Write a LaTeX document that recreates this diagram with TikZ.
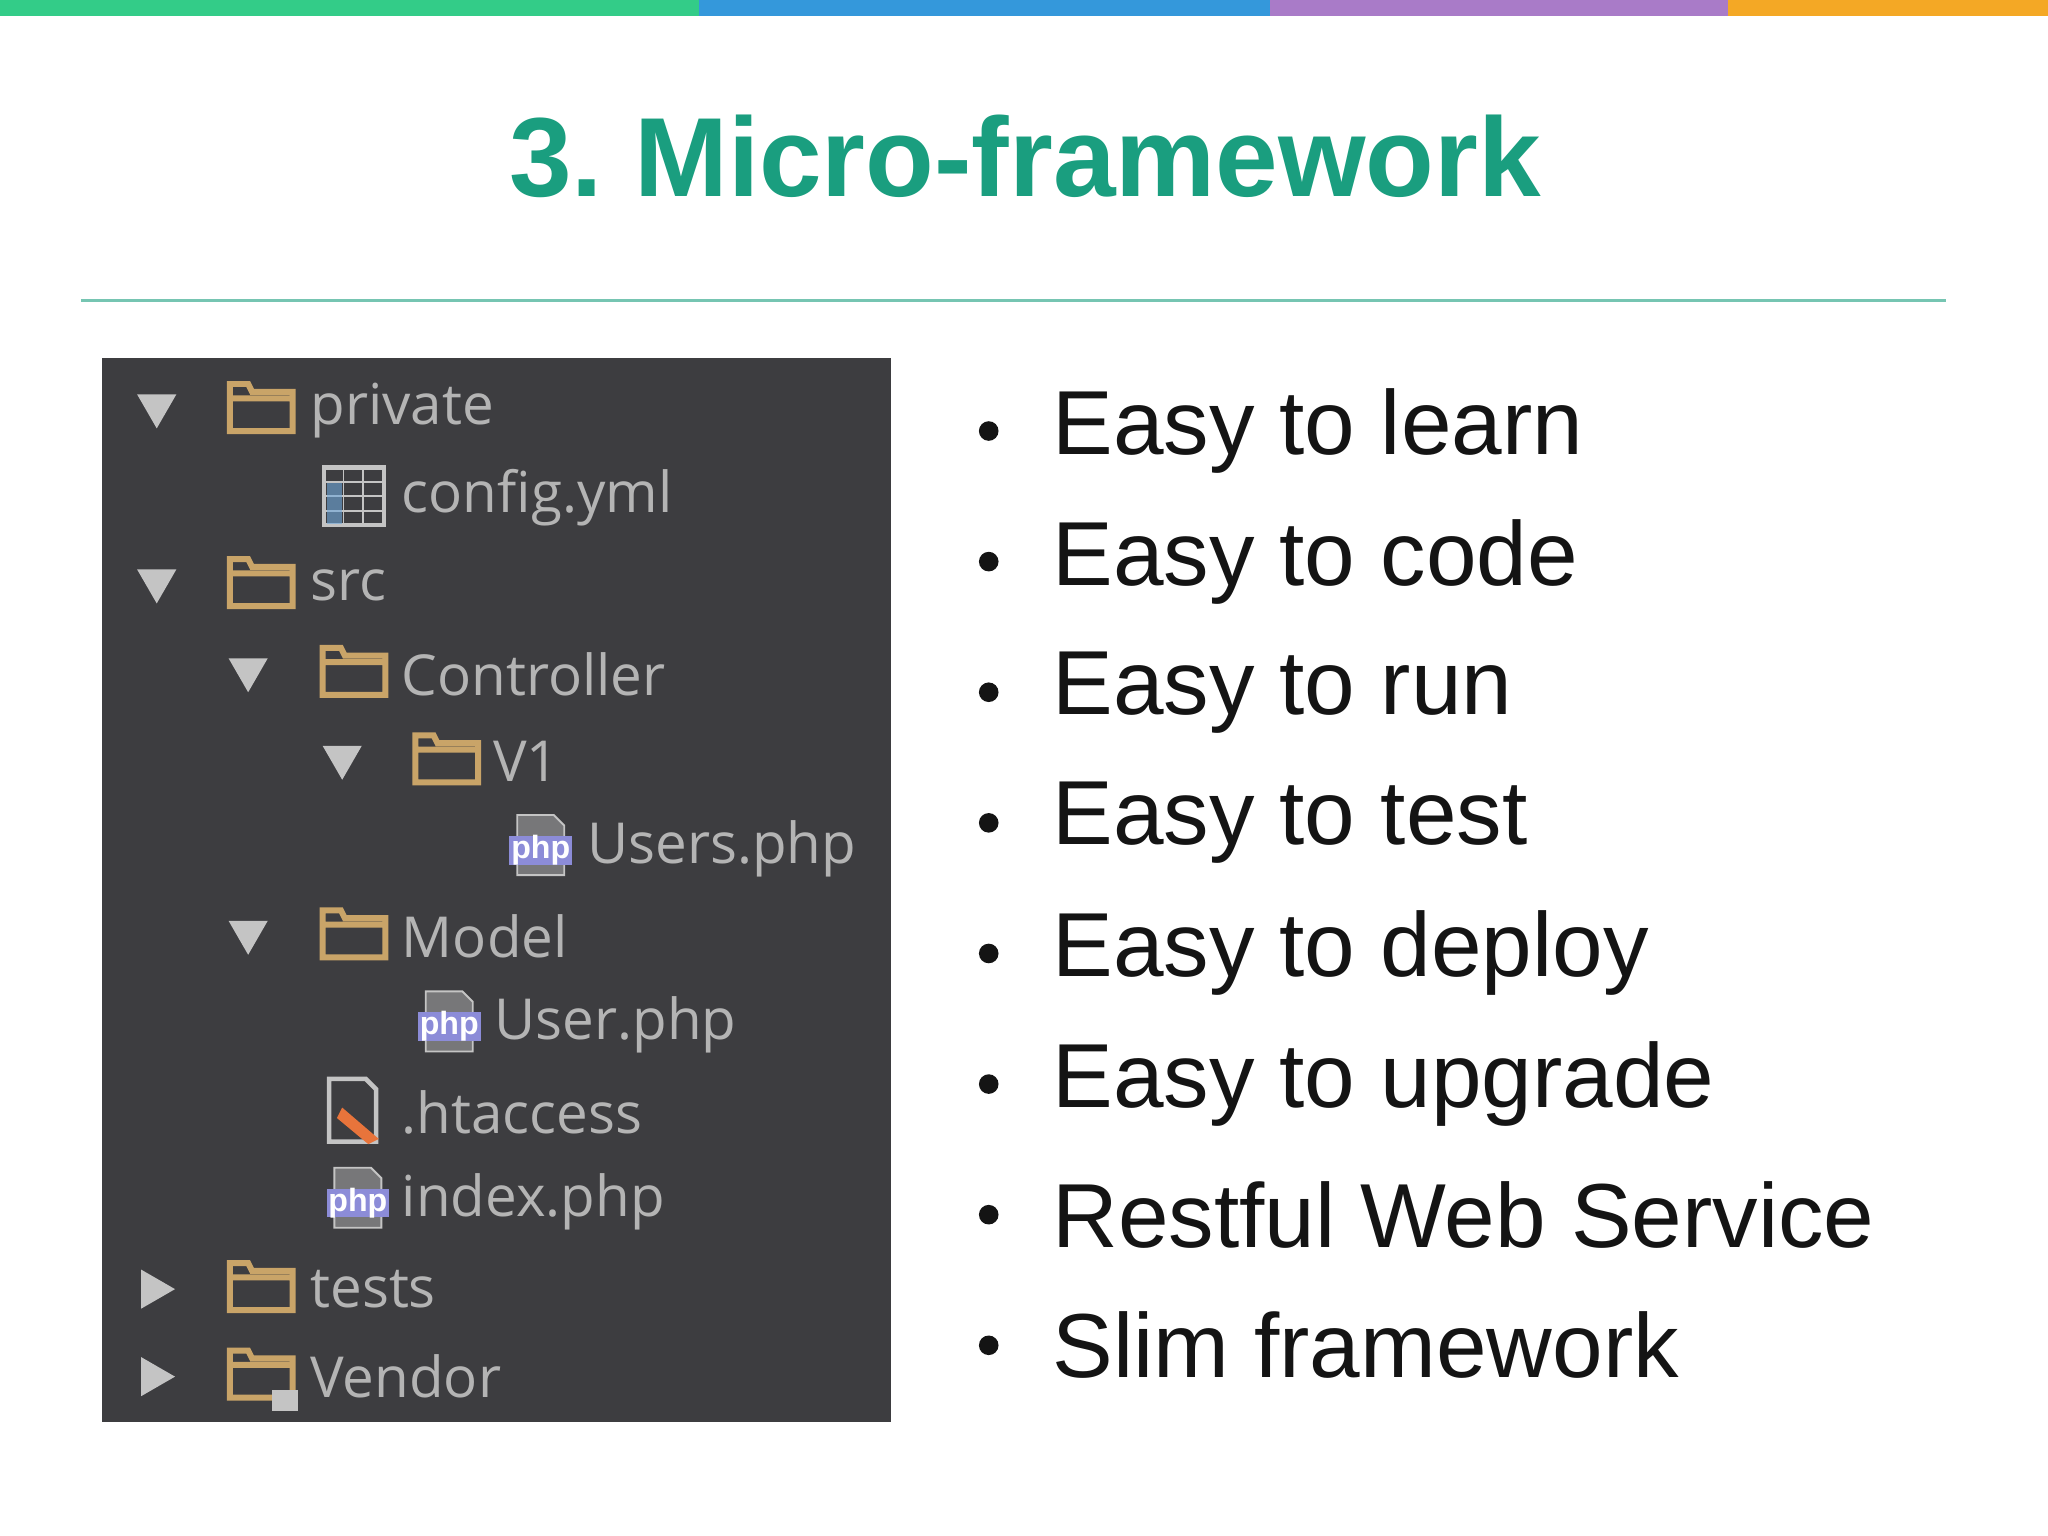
\documentclass[tikz,border=0pt]{standalone}
\usepackage{fontspec}
\setmainfont{Liberation Sans}
\newfontfamily\treefont{Open Sans}
\begin{document}
\begin{tikzpicture}[x=0.01cm,y=-0.01cm,
  treetxt/.style={anchor=west,inner sep=0,text=treegray,font=\treefont\fontsize{12.3pt}{14pt}\selectfont},
  bul/.style={anchor=west,inner sep=0,text=black!92,font=\fontsize{19.8pt}{23pt}\selectfont},
  folder/.style={draw=foldc,line width=1.3pt},
  tri/.style={fill=trigray,draw=none}]
\definecolor{teal}{HTML}{1A9E7F}
\definecolor{panel}{HTML}{3D3D40}
\definecolor{treegray}{HTML}{B4B4B4}
\definecolor{trigray}{HTML}{C4C4C4}
\definecolor{foldc}{HTML}{C9A468}
\definecolor{phpc}{HTML}{8C8CD8}
\definecolor{cfgc}{HTML}{6FA8DC}
\definecolor{featc}{HTML}{E8743B}
\useasboundingbox (0,0) rectangle (1568,1176);
\fill[white] (0,0) rectangle (1568,1176);
\definecolor{c1}{HTML}{33CC88}\definecolor{c2}{HTML}{3498DB}\definecolor{c3}{HTML}{A97BC8}\definecolor{c4}{HTML}{F4A825}
\fill[c1] (0,0) rectangle (535,12);
\fill[c2] (535,0) rectangle (972,12);
\fill[c3] (972,0) rectangle (1323,12);
\fill[c4] (1323,0) rectangle (1568,12);
\node[text=teal,font=\bfseries\fontsize{24.5pt}{28pt}\selectfont,inner sep=0] (title) at (785,120) {3.\ Micro-framework};
\draw[teal!60,line width=0.5pt] (62,230) -- (1490,230);
\fill[panel] (78,274) rectangle (682,1089);
% triangles
\foreach \x/\y in {120/314,120/448,190/516,262/583,190/717}
  \fill[tri] (\x-15,\y-12) -- (\x+15,\y-12) -- (\x,\y+14) -- cycle;
\foreach \x/\y in {120/987,120/1054}
  \fill[tri] (\x-12,\y-15) -- (\x-12,\y+15) -- (\x+14,\y) -- cycle;
% folders
\foreach \x/\y in {176/314,176/448,247/516,318/583,247/717,176/987,176/1054}
  \draw[folder] (\x,\y-20) -- (\x+14,\y-20) -- (\x+17,\y-14) -- (\x+48,\y-14) -- (\x+48,\y+16) -- (\x,\y+16) -- cycle (\x,\y-9) -- (\x+48,\y-9);
% config icon
\draw[trigray,line width=1pt] (248,358) rectangle (294,402);
\foreach \i in {369,380,391} \draw[trigray] (248,\i) -- (294,\i);
\foreach \i in {263,278} \draw[trigray] (\i,358) -- (\i,402);
\fill[cfgc,opacity=0.6] (250,370) rectangle (262,401);
% php icons
\foreach \x/\y in {390/650,320/785,250/920}{
  \draw[trigray,fill=panel!70!white] (\x+6,\y-26) -- (\x+34,\y-26) -- (\x+42,\y-18) -- (\x+42,\y+20) -- (\x+6,\y+20) -- cycle;
  \fill[phpc] (\x,\y-10) rectangle (\x+48,\y+12);
  \node[text=white,font=\bfseries\fontsize{7pt}{8pt}\selectfont,inner sep=0] at (\x+24,\y+1) {php};}
% htaccess icon
\draw[trigray,line width=1pt] (252,826) -- (280,826) -- (288,834) -- (288,874) -- (252,874) -- cycle;
\fill[featc] (262,848) -- (290,872) -- (282,876) -- (258,856) -- cycle;
% lock for vendor
\fill[trigray] (208,1064) rectangle (228,1080);
% tree texts
\node[treetxt] (t1) at (237,314) {private};
\node[treetxt] (t2) at (307,381) {config.yml};
\node[treetxt] (t3) at (237,448) {src};
\node[treetxt] (t4) at (307,516) {Controller};
\node[treetxt] (t5) at (377,583) {V1};
\node[treetxt] (t6) at (449,650) {Users.php};
\node[treetxt] (t7) at (307,717) {Model};
\node[treetxt] (t8) at (378,785) {User.php};
\node[treetxt] (t9) at (307,852) {.htaccess};
\node[treetxt] (t10) at (307,920) {index.php};
\node[treetxt] (t11) at (237,987) {tests};
\node[treetxt] (t12) at (237,1054) {Vendor};
% bullets
\foreach \t [count=\i from 0] in {Easy to learn,Easy to code,Easy to run,Easy to test,Easy to deploy,Easy to upgrade,Restful Web Service,Slim framework}{
  \fill[black!92] (757,330+\i*100) circle (7.5);
  \node[bul] (b\i) at (805,330+\i*100) {\t};}
\end{tikzpicture}
\end{document}
